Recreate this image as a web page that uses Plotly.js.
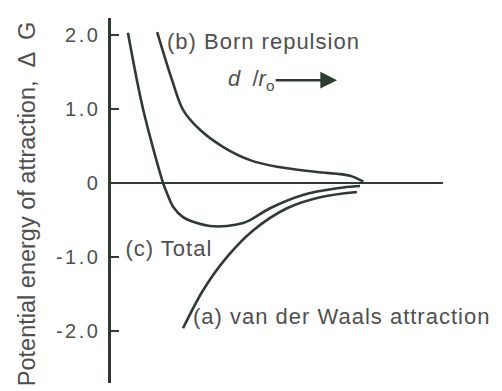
<!DOCTYPE html>
<html>
<head>
<meta charset="utf-8">
<script src="https://cdn.plot.ly/plotly-3.0.1.min.js"></script>
<style>
  html, body { margin: 0; padding: 0; background: #ffffff; }
  #chart { width: 502px; height: 391px; }
  /* the curve labels and tick numbers are set loosely */
  #chart .annotation .annotation-text { letter-spacing: 1px; }
  #chart .annotation[data-index="0"] .annotation-text,
  #chart .annotation[data-index="4"] .annotation-text { letter-spacing: 0; }
  #chart .ytick text { letter-spacing: 2.5px; }
</style>
</head>
<body>
<div id="chart"></div>
<script>
// Separation d/r0 (arbitrary units) and potential energy for each curve
const totalX = [0.51, 0.96, 1.57, 1.69, 1.87, 2.17, 2.59, 2.98, 3.49, 3.98, 4.19, 4.79, 5.78, 6.81, 7.50];
const totalY = [2.03, 1.01, 0.00, -0.14, -0.32, -0.46, -0.54, -0.58, -0.58, -0.54, -0.50, -0.34, -0.16, -0.07, -0.04];

const vdwX = [2.17, 2.77, 3.49, 4.28, 5.30, 6.30, 7.41];
const vdwY = [-1.96, -1.45, -1.00, -0.64, -0.34, -0.19, -0.12];

const bornX = [1.39, 1.84, 2.17, 2.68, 3.37, 4.19, 5.00, 6.20, 7.20, 7.60];
const bornY = [2.04, 1.39, 0.99, 0.72, 0.49, 0.31, 0.22, 0.15, 0.10, 0.02];

const tickVals = [2, 1, 0, -1, -2];
const tickText = ['2.0', '1.0', '0', '-1.0', '-2.0'];

const ink = '#2f3b32';
const textGray = '#4f4f4f';
const font = 'Liberation Sans, Arial, sans-serif';

function curve(x, y) {
  return {
    x: x, y: y, type: 'scatter', mode: 'lines',
    line: { color: ink, width: 2.6, shape: 'spline', smoothing: 0.9 },
    hoverinfo: 'skip', showlegend: false
  };
}

const data = [curve(totalX, totalY), curve(vdwX, vdwY), curve(bornX, bornY)];

const layout = {
  width: 502, height: 391,
  margin: { l: 111, r: 59, t: 18, b: 8 },
  paper_bgcolor: '#ffffff', plot_bgcolor: '#ffffff',
  showlegend: false,
  xaxis: {
    range: [0, 10], showline: false, showticklabels: false,
    showgrid: false, zeroline: false, ticks: ''
  },
  yaxis: {
    range: [-2.70, 2.23],
    showline: true, linecolor: ink, linewidth: 2.6,
    showgrid: false,
    zeroline: true, zerolinecolor: ink, zerolinewidth: 2.6,
    ticks: 'inside', ticklen: 8, tickwidth: 2.6, tickcolor: ink,
    tickvals: tickVals, ticktext: tickText,
    ticklabelstandoff: 4,
    tickfont: { family: font, size: 20, color: textGray }
  },
  annotations: [
    {
      xref: 'paper', yref: 'paper', x: -0.253, y: 0.49,
      xanchor: 'center', yanchor: 'middle', textangle: -90,
      text: 'Potential energy of attraction,  \u0394  G',
      showarrow: false,
      font: { family: font, size: 23.5, color: textGray }
    },
    {
      x: 1.90, y: 1.91, xanchor: 'left', yanchor: 'middle',
      text: '(b) Born repulsion', showarrow: false,
      font: { family: font, size: 22, color: textGray }
    },
    {
      x: 0.52, y: -0.88, xanchor: 'left', yanchor: 'middle',
      text: '(c) Total', showarrow: false,
      font: { family: font, size: 22, color: textGray }
    },
    {
      x: 2.84, y: -1.80, xanchor: 'left', yanchor: 'middle',
      text: '(a) van der Waals attraction', showarrow: false,
      font: { family: font, size: 22, color: textGray }
    },
    {
      // direction of increasing separation
      x: 6.81, y: 1.39, ax: -86, ay: 0,
      text: '<i>d</i>  /<i>r</i><sub>o</sub>',
      showarrow: true, arrowhead: 2, arrowsize: 1.4, arrowwidth: 2.4,
      arrowcolor: ink,
      font: { family: font, size: 22, color: textGray }
    }
  ]
};

Plotly.newPlot('chart', data, layout, { staticPlot: true, displayModeBar: false });
</script>
</body>
</html>
